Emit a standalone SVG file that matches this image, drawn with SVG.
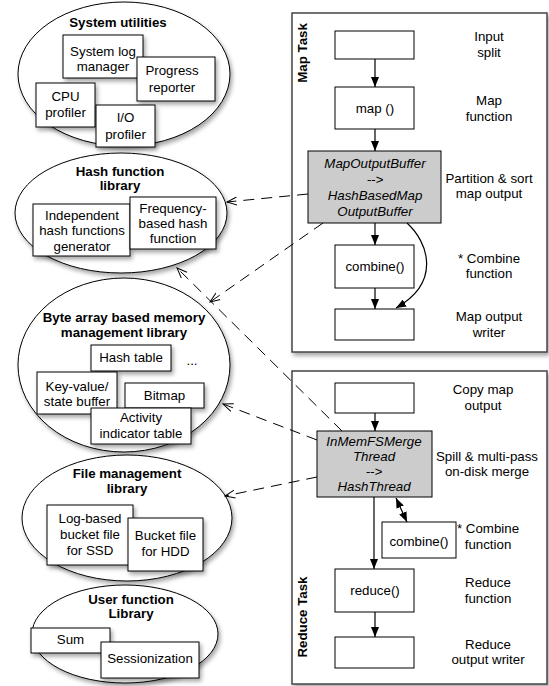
<svg xmlns="http://www.w3.org/2000/svg" width="549" height="686" viewBox="0 0 549 686">
<style>
text{font-family:"Liberation Sans",Arial,sans-serif;font-size:13.3px;fill:#000;text-anchor:middle}
.b{font-weight:bold}
.i{font-style:italic}
.ell{fill:#fff;stroke:#000;stroke-width:1}
.box{fill:#fff;stroke:#000;stroke-width:1}
.gbox{fill:#cccccc;stroke:#000;stroke-width:1}
.cont{fill:#fff;stroke:#444;stroke-width:1.5}
.sol{stroke:#000;stroke-width:1.2;fill:none}
.dash{stroke:#000;stroke-width:1;fill:none;stroke-dasharray:11 7}
</style>
<defs>
<filter id="sh" x="-20%" y="-20%" width="150%" height="160%"><feDropShadow dx="2" dy="3" stdDeviation="2" flood-color="#000" flood-opacity="0.35"/></filter>
<marker id="ah" markerWidth="10" markerHeight="8" refX="10" refY="4" orient="auto" markerUnits="userSpaceOnUse"><path d="M0,0 L10,4 L0,8 z" fill="#000"/></marker>
<marker id="ahs" markerWidth="10" markerHeight="8" refX="10" refY="4" orient="auto-start-reverse" markerUnits="userSpaceOnUse"><path d="M0,0 L10,4 L0,8 z" fill="#000"/></marker>
<marker id="oa" markerWidth="11" markerHeight="10" refX="10" refY="5" orient="auto" markerUnits="userSpaceOnUse"><path d="M0,1 L10,5 L0,9" fill="none" stroke="#000" stroke-width="1"/></marker>
</defs>

<g id="system-utilities">
<ellipse class="ell" cx="124" cy="74" rx="106" ry="72" filter="url(#sh)"/>
<text class="b" x="118" y="27">System utilities</text>
<g id="system-log-manager"><rect class="box" x="63" y="35" width="80" height="43" filter="url(#sh)"/><text x="103" y="56">System log</text><text x="103" y="71">manager</text></g>
<g id="progress-reporter"><rect class="box" x="137" y="57" width="78" height="44" filter="url(#sh)"/><text x="172" y="75">Progress</text><text x="172" y="92">reporter</text></g>
<g id="cpu-profiler"><rect class="box" x="36" y="83" width="59" height="44" filter="url(#sh)"/><text x="65.5" y="101">CPU</text><text x="65.5" y="117">profiler</text></g>
<g id="io-profiler"><rect class="box" x="96" y="105" width="59" height="42" filter="url(#sh)"/><text x="125.5" y="122">I/O</text><text x="125.5" y="139">profiler</text></g>
</g>

<g id="hash-function-library">
<ellipse class="ell" cx="121" cy="213" rx="106" ry="60" filter="url(#sh)"/>
<text class="b" x="120" y="176">Hash function</text>
<text class="b" x="120" y="190">library</text>
<g id="independent-hash"><rect class="box" x="33" y="204" width="97" height="52" filter="url(#sh)"/><text x="82" y="220">Independent</text><text x="82" y="235">hash functions</text><text x="82" y="251">generator</text></g>
<g id="frequency-hash"><rect class="box" x="130" y="197" width="86" height="52" filter="url(#sh)"/><text x="173" y="213">Frequency-</text><text x="173" y="228">based hash</text><text x="173" y="243">function</text></g>
</g>

<g id="byte-array-library">
<ellipse class="ell" cx="124" cy="365" rx="106" ry="87" filter="url(#sh)"/>
<text class="b" x="124" y="322">Byte array based memory</text>
<text class="b" x="124" y="337">management library</text>
<g id="hash-table"><rect class="box" x="91" y="345" width="80" height="26" filter="url(#sh)"/><text x="131" y="362">Hash table</text></g>
<text x="192" y="365">...</text>
<g id="key-value-buffer"><rect class="box" x="37" y="372" width="80" height="42" filter="url(#sh)"/><text x="77" y="391">Key-value/</text><text x="77" y="406">state buffer</text></g>
<g id="bitmap"><rect class="box" x="125" y="383" width="79" height="25" filter="url(#sh)"/><text x="164.5" y="400">Bitmap</text></g>
<g id="activity-indicator"><rect class="box" x="91" y="408" width="100" height="36" filter="url(#sh)"/><text x="141" y="422">Activity</text><text x="141" y="438">indicator table</text></g>
</g>

<g id="file-management-library">
<ellipse class="ell" cx="127" cy="518" rx="105" ry="63" filter="url(#sh)"/>
<text class="b" x="127" y="478">File management</text>
<text class="b" x="127" y="493">library</text>
<g id="log-bucket-ssd"><rect class="box" x="47" y="505" width="86" height="60" filter="url(#sh)"/><text x="90" y="523">Log-based</text><text x="90" y="539">bucket file</text><text x="90" y="555">for SSD</text></g>
<g id="bucket-hdd"><rect class="box" x="128" y="518" width="75" height="53" filter="url(#sh)"/><text x="165.5" y="540">Bucket file</text><text x="165.5" y="556">for HDD</text></g>
</g>

<g id="user-function-library">
<ellipse class="ell" cx="125" cy="634" rx="93" ry="49" filter="url(#sh)"/>
<text class="b" x="131" y="604">User function</text>
<text class="b" x="131" y="618">Library</text>
<g id="sum"><rect class="box" x="31" y="628" width="79" height="25" filter="url(#sh)"/><text x="70.5" y="644">Sum</text></g>
<g id="sessionization"><rect class="box" x="101" y="642" width="98" height="36" filter="url(#sh)"/><text x="150" y="663">Sessionization</text></g>
</g>

<g id="map-task">
<rect class="cont" x="292" y="13" width="255" height="339" filter="url(#sh)"/>
<text class="b" transform="translate(307,53) rotate(-90)">Map Task</text>
<g id="input-split"><rect class="box" x="335" y="31" width="79" height="28"/></g>
<text x="489" y="41">Input</text><text x="489" y="57">split</text>
<g id="map-fn"><rect class="box" x="335" y="87" width="79" height="42"/><text x="375" y="113">map ()</text></g>
<text x="489" y="105">Map</text><text x="489" y="121">function</text>
<g id="map-output-buffer"><rect class="gbox" x="308" y="151" width="133" height="72"/>
<text class="i" x="375" y="168">MapOutputBuffer</text><text class="i" x="375" y="184">--&gt;</text><text class="i" x="375" y="200">HashBasedMap</text><text class="i" x="375" y="216">OutputBuffer</text></g>
<text x="489" y="183">Partition &amp; sort</text><text x="489" y="198">map output</text>
<g id="map-combine"><rect class="box" x="335" y="245" width="79" height="43"/><text x="375" y="271">combine()</text></g>
<text x="489" y="263">* Combine</text><text x="489" y="278">function</text>
<g id="map-output-writer"><rect class="box" x="335" y="309" width="79" height="31"/></g>
<text x="489" y="321">Map output</text><text x="489" y="337">writer</text>
</g>

<g id="reduce-task">
<rect class="cont" x="292" y="371" width="255" height="313" filter="url(#sh)"/>
<text class="b" transform="translate(307,617) rotate(-90)">Reduce Task</text>
<g id="copy-map-output"><rect class="box" x="335" y="383" width="79" height="30"/></g>
<text x="483" y="394">Copy map</text><text x="483" y="410">output</text>
<g id="hash-thread"><rect class="gbox" x="317" y="431" width="115" height="66"/>
<text class="i" x="374" y="446">InMemFSMerge</text><text class="i" x="374" y="461">Thread</text><text class="i" x="374" y="476">--&gt;</text><text class="i" x="374" y="491">HashThread</text></g>
<text x="487" y="461">Spill &amp; multi-pass</text><text x="487" y="476">on-disk merge</text>
<g id="reduce-combine"><rect class="box" x="382" y="522" width="74" height="36"/><text x="419" y="546">combine()</text></g>
<text x="488" y="533">* Combine</text><text x="488" y="549">function</text>
<g id="reduce-fn"><rect class="box" x="335" y="569" width="79" height="43"/><text x="375" y="595">reduce()</text></g>
<text x="488" y="587">Reduce</text><text x="488" y="603">function</text>
<g id="reduce-output-writer"><rect class="box" x="335" y="637" width="79" height="31"/></g>
<text x="488" y="649">Reduce</text><text x="488" y="664">output writer</text>
</g>

<g id="connectors">
<line class="sol" x1="375" y1="59" x2="375" y2="87" marker-end="url(#ah)"/>
<line class="sol" x1="375" y1="129" x2="375" y2="151" marker-end="url(#ah)"/>
<line class="sol" x1="375" y1="223" x2="375" y2="245" marker-end="url(#ah)"/>
<line class="sol" x1="375" y1="288" x2="375" y2="309" marker-end="url(#ah)"/>
<path class="sol" d="M407,223 C428,242 442,282 396,308" marker-end="url(#ah)"/>
<line class="sol" x1="375" y1="413" x2="375" y2="431" marker-end="url(#ah)"/>
<line class="sol" x1="374" y1="497" x2="374" y2="569" marker-end="url(#ah)"/>
<line class="sol" x1="396" y1="498" x2="407" y2="522" marker-start="url(#ahs)" marker-end="url(#ahs)"/>
<line class="sol" x1="375" y1="612" x2="375" y2="637" marker-end="url(#ah)"/>
<line class="dash" x1="308" y1="194" x2="227" y2="202" marker-end="url(#oa)"/>
<line class="dash" x1="323" y1="223" x2="210" y2="302" marker-end="url(#oa)"/>
<line class="dash" x1="342" y1="431" x2="177" y2="268" marker-end="url(#oa)"/>
<line class="dash" x1="317" y1="440" x2="223" y2="404" marker-end="url(#oa)"/>
<line class="dash" x1="317" y1="477" x2="225" y2="496" marker-end="url(#oa)"/>
</g>
</svg>
